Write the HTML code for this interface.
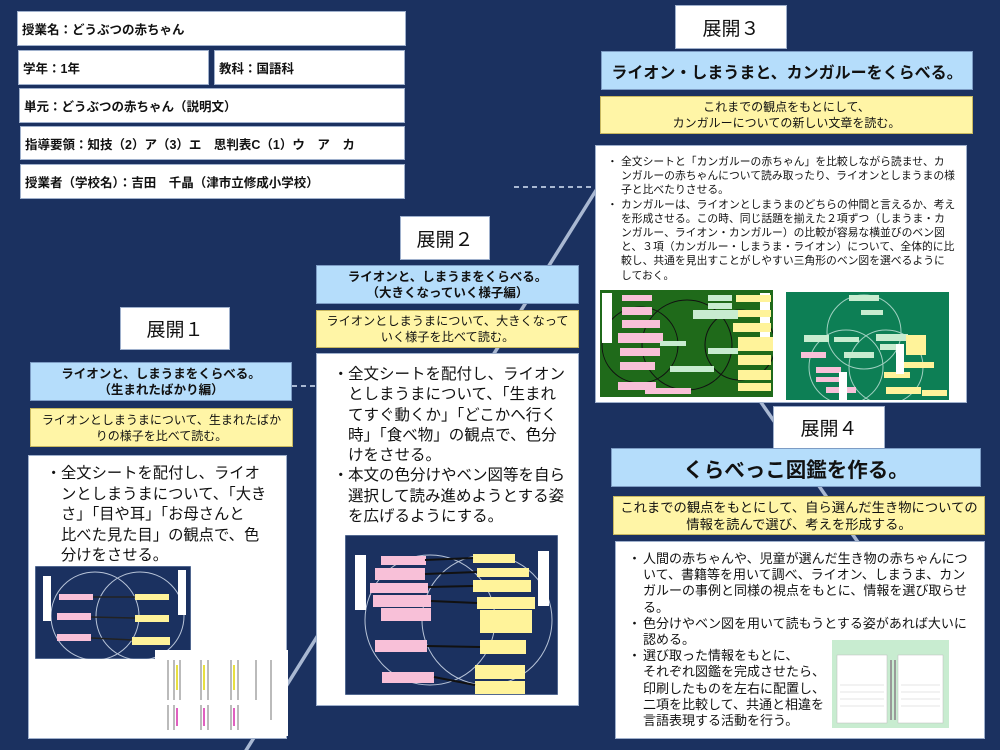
<!DOCTYPE html>
<html><head><meta charset="utf-8">
<style>
*{margin:0;padding:0;box-sizing:border-box}
body{width:1000px;height:750px;background:#1b3160;position:relative;overflow:hidden;font-family:"Liberation Sans","Noto Sans CJK JP",sans-serif;color:#111}
.a{position:absolute}
.h{position:absolute;background:#fff;border:1px solid #9fb0cc;font-weight:bold;font-size:12.5px;display:flex;align-items:center;padding-left:4px;white-space:nowrap}
.lab{position:absolute;background:#fff;border:1px solid #9fb0cc;font-size:19px;display:flex;align-items:center;justify-content:center}
.blue{position:absolute;background:#b5ddfb;border:1px solid #7d9cc4;font-weight:bold;display:flex;align-items:center;justify-content:center;text-align:center;white-space:nowrap}
.yel{position:absolute;background:#fff5a6;border:1px solid #c8b860;display:flex;align-items:center;justify-content:center;text-align:center;white-space:nowrap}
.wh{position:absolute;background:#fff;border:1px solid #9fb0cc}
.t{position:absolute;white-space:nowrap}
</style></head><body>
<svg class="a" style="left:0;top:0" width="1000" height="750">
<line x1="245" y1="752" x2="600" y2="184" stroke="#a9b8d2" stroke-width="3.5"/>
<line x1="758" y1="398" x2="862" y2="548" stroke="#a9b8d2" stroke-width="3.5"/>
<line x1="292" y1="386" x2="318" y2="386" stroke="#a9b8d2" stroke-width="2" stroke-dasharray="5,4"/>
<line x1="514" y1="187" x2="597" y2="187" stroke="#a9b8d2" stroke-width="2" stroke-dasharray="5,4"/>
</svg>

<div class="h" style="left:17px;top:11px;width:389px;height:35px">授業名：どうぶつの赤ちゃん</div>
<div class="h" style="left:18px;top:50px;width:191px;height:35px">学年：1年</div>
<div class="h" style="left:214px;top:50px;width:191px;height:35px">教科：国語科</div>
<div class="h" style="left:19px;top:88px;width:386px;height:35px">単元：どうぶつの赤ちゃん（説明文）</div>
<div class="h" style="left:20px;top:126px;width:385px;height:34px">指導要領：知技（2）ア（3）エ　思判表C（1）ウ　ア　カ</div>
<div class="h" style="left:20px;top:164px;width:385px;height:35px">授業者（学校名）：吉田　千晶（津市立修成小学校）</div>

<div class="lab" style="left:120px;top:307px;width:110px;height:43px">展開１</div>
<div class="lab" style="left:400px;top:216px;width:90px;height:44px">展開２</div>
<div class="lab" style="left:675px;top:5px;width:112px;height:44px">展開３</div>
<div class="lab" style="left:773px;top:406px;width:112px;height:43px">展開４</div>

<!-- 展開1 -->
<div class="blue" style="left:30px;top:362px;width:262px;height:39px;font-size:12.5px;line-height:16px">ライオンと、しまうまをくらべる。<br>（生まれたばかり編）</div>
<div class="yel" style="left:30px;top:408px;width:263px;height:39px;font-size:12px;line-height:16px">ライオンとしまうまについて、生まれたばか<br>りの様子を比べて読む。</div>
<div class="wh" style="left:28px;top:455px;width:259px;height:284px"></div>
<div class="t" style="left:46px;top:464px;font-size:15.3px;line-height:20.5px">・</div>
<div class="t" style="left:61px;top:464px;font-size:15.3px;line-height:20.5px">全文シートを配付し、ライオ<br>ンとしまうまについて、「大き<br>さ」「目や耳」「お母さんと<br>比べた見た目」の観点で、色<br>分けをさせる。</div>
<svg class="a" style="left:35px;top:566px" width="156" height="93">
<rect width="156" height="93" fill="#1b3160" stroke="#8aa0c0"/>
<circle cx="60" cy="50" r="44" fill="none" stroke="#b8c4d8"/>
<circle cx="105" cy="50" r="44" fill="none" stroke="#b8c4d8"/>
<rect x="8" y="10" width="8" height="45" fill="#fff"/><rect x="143" y="4" width="8" height="45" fill="#fff"/>
<rect x="24" y="28" width="34" height="6" fill="#f8c0d8"/><rect x="22" y="47" width="34" height="7" fill="#f8c0d8"/><rect x="22" y="68" width="34" height="7" fill="#f8c0d8"/>
<rect x="100" y="28" width="34" height="6" fill="#fff39a"/><rect x="100" y="49" width="34" height="7" fill="#fff39a"/><rect x="97" y="71" width="38" height="8" fill="#fff39a"/>
<line x1="58" y1="31" x2="100" y2="31" stroke="#222" stroke-width="1.5"/><line x1="56" y1="51" x2="100" y2="52" stroke="#222" stroke-width="1.5"/><line x1="56" y1="72" x2="97" y2="74" stroke="#222" stroke-width="1.5"/>
</svg>
<svg class="a" style="left:155px;top:650px" width="133" height="86">
<rect width="133" height="86" fill="#fff"/>
<g fill="#bbb"><rect x="12" y="10" width="2" height="40"/><rect x="18" y="10" width="2" height="40"/><rect x="24" y="10" width="2" height="40"/><rect x="45" y="10" width="2" height="40"/><rect x="52" y="10" width="2" height="40"/><rect x="75" y="10" width="2" height="40"/><rect x="82" y="10" width="2" height="40"/><rect x="100" y="10" width="2" height="40"/><rect x="115" y="10" width="2" height="60"/>
<rect x="12" y="55" width="2" height="25"/><rect x="18" y="55" width="2" height="25"/><rect x="45" y="55" width="2" height="25"/><rect x="52" y="55" width="2" height="25"/><rect x="75" y="55" width="2" height="25"/><rect x="82" y="55" width="2" height="25"/></g>
<g fill="#e8e040"><rect x="21" y="15" width="2" height="25"/><rect x="48" y="15" width="2" height="25"/><rect x="78" y="15" width="2" height="25"/></g>
<g fill="#e060c0"><rect x="21" y="58" width="2" height="18"/><rect x="48" y="58" width="2" height="18"/><rect x="78" y="58" width="2" height="18"/></g>
</svg>

<!-- 展開2 -->
<div class="blue" style="left:316px;top:265px;width:263px;height:39px;font-size:12.5px;line-height:16px">ライオンと、しまうまをくらべる。<br>（大きくなっていく様子編）</div>
<div class="yel" style="left:316px;top:310px;width:263px;height:38px;font-size:12.2px;line-height:16px">ライオンとしまうまについて、大きくなって<br>いく様子を比べて読む。</div>
<div class="wh" style="left:316px;top:353px;width:263px;height:353px"></div>
<div class="t" style="left:333px;top:365px;font-size:15.5px;line-height:20.3px">・<br><br><br><br><br>・</div>
<div class="t" style="left:348px;top:365px;font-size:15.5px;line-height:20.3px">全文シートを配付し、ライオン<br>としまうまについて、「生まれ<br>てすぐ動くか」「どこかへ行く<br>時」「食べ物」の観点で、色分<br>けをさせる。<br>本文の色分けやベン図等を自ら<br>選択して読み進めようとする姿<br>を広げるようにする。</div>
<svg class="a" style="left:345px;top:535px" width="213" height="160">
<rect width="213" height="160" fill="#1b3160" stroke="#8aa0c0"/>
<circle cx="85" cy="85" r="65" fill="none" stroke="#b8c4d8"/>
<circle cx="142" cy="85" r="65" fill="none" stroke="#b8c4d8"/>
<rect x="10" y="20" width="11" height="55" fill="#fff"/><rect x="193" y="16" width="11" height="55" fill="#fff"/>
<g fill="#f8c0d8"><rect x="36" y="21" width="45" height="9"/><rect x="30" y="33" width="50" height="12"/><rect x="25" y="48" width="58" height="10"/><rect x="28" y="60" width="58" height="12"/><rect x="36" y="73" width="50" height="13"/><rect x="30" y="105" width="52" height="12"/><rect x="37" y="137" width="52" height="11"/></g>
<g fill="#fff39a"><rect x="128" y="19" width="42" height="9"/><rect x="132" y="33" width="52" height="9"/><rect x="128" y="45" width="58" height="12"/><rect x="132" y="62" width="58" height="12"/><rect x="135" y="75" width="52" height="23"/><rect x="135" y="105" width="46" height="14"/><rect x="130" y="130" width="50" height="14"/><rect x="130" y="146" width="50" height="13"/></g>
<g stroke="#111" stroke-width="2"><line x1="80" y1="25" x2="128" y2="23"/><line x1="80" y1="39" x2="132" y2="37"/><line x1="83" y1="52" x2="128" y2="51"/><line x1="86" y1="66" x2="132" y2="68"/><line x1="82" y1="111" x2="135" y2="112"/><line x1="89" y1="142" x2="130" y2="150"/></g>
</svg>

<!-- 展開3 -->
<div class="blue" style="left:601px;top:51px;width:372px;height:39px;font-size:16px">ライオン・しまうまと、カンガルーをくらべる。</div>
<div class="yel" style="left:600px;top:96px;width:373px;height:38px;font-size:12px;line-height:16px">これまでの観点をもとにして、<br>カンガルーについての新しい文章を読む。</div>
<div class="wh" style="left:595px;top:145px;width:372px;height:258px"></div>
<div class="t" style="left:607px;top:155px;font-size:10.8px;line-height:14.2px">・<br><br><br>・</div>
<div class="t" style="left:621px;top:155px;font-size:10.8px;line-height:14.2px">全文シートと「カンガルーの赤ちゃん」を比較しながら読ませ、カ<br>ンガルーの赤ちゃんについて読み取ったり、ライオンとしまうまの様<br>子と比べたりさせる。<br>カンガルーは、ライオンとしまうまのどちらの仲間と言えるか、考え<br>を形成させる。この時、同じ話題を揃えた２項ずつ（しまうま・カ<br>ンガルー、ライオン・カンガルー）の比較が容易な横並びのベン図<br>と、３項（カンガルー・しまうま・ライオン）について、全体的に比<br>較し、共通を見出すことがしやすい三角形のベン図を選べるように<br>しておく。</div>
<svg class="a" style="left:600px;top:290px" width="173" height="107">
<rect width="173" height="107" fill="#1f6a1a"/>
<circle cx="40" cy="55" r="38" fill="none" stroke="#111"/><circle cx="87" cy="55" r="45" fill="none" stroke="#111"/><circle cx="140" cy="55" r="35" fill="none" stroke="#111"/>
<rect x="2" y="3" width="10" height="50" fill="#fff"/><rect x="160" y="3" width="10" height="50" fill="#fff"/>
<g fill="#f8c0d8"><rect x="22" y="5" width="30" height="6"/><rect x="22" y="17" width="30" height="8"/><rect x="22" y="30" width="38" height="8"/><rect x="18" y="43" width="45" height="10"/><rect x="20" y="58" width="40" height="8"/><rect x="20" y="72" width="35" height="8"/><rect x="18" y="92" width="38" height="8"/><rect x="45" y="98" width="46" height="6"/></g>
<g fill="#c8ecd0"><rect x="108" y="5" width="24" height="6"/><rect x="108" y="13" width="24" height="6"/><rect x="93" y="20" width="45" height="9"/><rect x="60" y="51" width="26" height="5"/><rect x="108" y="58" width="30" height="6"/><rect x="70" y="76" width="44" height="6"/></g>
<g fill="#fff39a"><rect x="136" y="5" width="35" height="7"/><rect x="138" y="20" width="33" height="7"/><rect x="133" y="33" width="38" height="9"/><rect x="138" y="47" width="35" height="14"/><rect x="138" y="65" width="33" height="10"/><rect x="138" y="80" width="33" height="10"/><rect x="138" y="93" width="33" height="8"/></g>
</svg>
<svg class="a" style="left:786px;top:292px" width="163" height="108">
<rect width="163" height="108" fill="#0d7f55"/>
<circle cx="78" cy="40" r="37" fill="none" stroke="#9fd0c0"/><circle cx="60" cy="75" r="37" fill="none" stroke="#9fd0c0"/><circle cx="100" cy="75" r="37" fill="none" stroke="#9fd0c0"/>
<g fill="#c8ecd0"><rect x="63" y="3" width="30" height="6"/><rect x="75" y="18" width="22" height="5"/><rect x="18" y="43" width="25" height="7"/><rect x="48" y="45" width="25" height="5"/><rect x="90" y="42" width="32" height="7"/><rect x="94" y="52" width="24" height="6"/><rect x="58" y="60" width="30" height="6"/></g>
<g fill="#f8c0d8"><rect x="15" y="60" width="25" height="6"/><rect x="30" y="75" width="25" height="6"/><rect x="30" y="85" width="25" height="5"/><rect x="40" y="95" width="30" height="6"/></g>
<g fill="#fff39a"><rect x="120" y="43" width="20" height="20"/><rect x="118" y="70" width="30" height="6"/><rect x="98" y="80" width="26" height="6"/><rect x="100" y="95" width="35" height="7"/><rect x="136" y="98" width="25" height="6"/></g>
<rect x="53" y="80" width="8" height="30" fill="#fff"/><rect x="110" y="52" width="8" height="30" fill="#fff"/>
</svg>

<!-- 展開4 -->
<div class="blue" style="left:611px;top:448px;width:370px;height:39px;font-size:20.5px">くらべっこ図鑑を作る。</div>
<div class="yel" style="left:613px;top:496px;width:372px;height:39px;font-size:13.3px;line-height:17px">これまでの観点をもとにして、自ら選んだ生き物についての<br>情報を読んで選び、考えを形成する。</div>
<div class="wh" style="left:615px;top:541px;width:370px;height:198px"></div>
<div class="t" style="left:628px;top:551px;font-size:13px;line-height:16.2px">・<br><br><br><br>・<br><br>・</div>
<div class="t" style="left:643px;top:551px;font-size:13px;line-height:16.2px">人間の赤ちゃんや、児童が選んだ生き物の赤ちゃんにつ<br>いて、書籍等を用いて調べ、ライオン、しまうま、カン<br>ガルーの事例と同様の視点をもとに、情報を選び取らせ<br>る。<br>色分けやベン図を用いて読もうとする姿があれば大いに<br>認める。<br>選び取った情報をもとに、<br>それぞれ図鑑を完成させたら、<br>印刷したものを左右に配置し、<br>二項を比較して、共通と相違を<br>言語表現する活動を行う。</div>
<svg class="a" style="left:832px;top:640px" width="117" height="88">
<rect width="117" height="88" fill="#c8ecd0"/>
<rect x="5" y="15" width="50" height="68" fill="#fff" stroke="#bbb" stroke-width=".5"/>
<rect x="66" y="15" width="45" height="68" fill="#fff" stroke="#bbb" stroke-width=".5"/>
<g stroke="#ccc" stroke-width=".6"><line x1="8" y1="45" x2="52" y2="45"/><line x1="8" y1="52" x2="52" y2="52"/><line x1="8" y1="59" x2="52" y2="59"/><line x1="8" y1="66" x2="52" y2="66"/><line x1="69" y1="45" x2="108" y2="45"/><line x1="69" y1="52" x2="108" y2="52"/><line x1="69" y1="59" x2="108" y2="59"/><line x1="69" y1="66" x2="108" y2="66"/></g>
<rect x="58" y="20" width="2" height="60" fill="#999"/><rect x="62" y="20" width="2" height="60" fill="#999"/>
</svg>
</body></html>
